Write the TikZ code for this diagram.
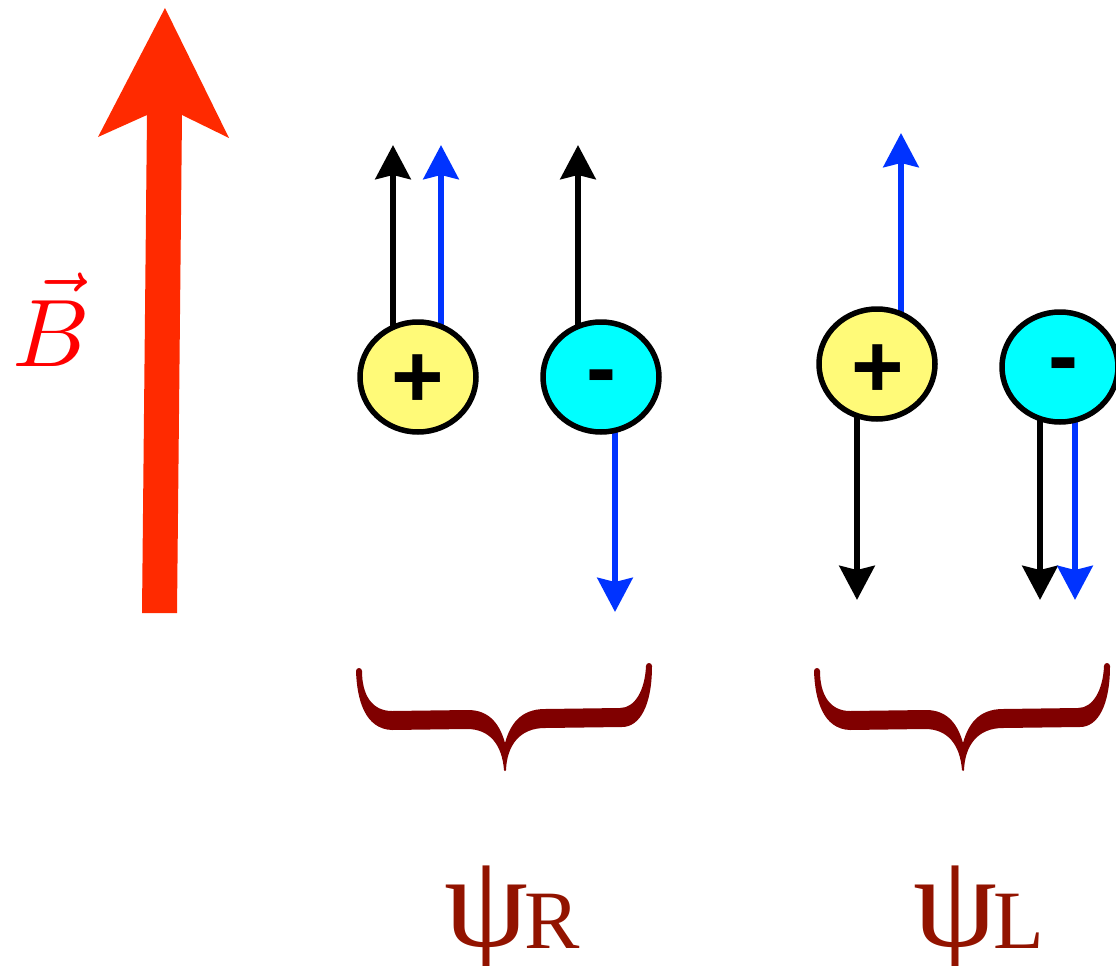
\documentclass[tikz,border=0pt]{standalone}
\usepackage{fontspec}
\usepackage{graphicx}
\usetikzlibrary{shapes.geometric,arrows.meta}
\newfontfamily\sgnfont{Liberation Sans}
\newfontfamily\psifont{Liberation Serif}
\definecolor{bred}{HTML}{FF2A00}
\definecolor{spinblue}{HTML}{0033FF}
\definecolor{pyel}{HTML}{FFFA78}
\definecolor{ncyan}{HTML}{00FFFF}
\definecolor{bracered}{HTML}{800000}
\definecolor{lblred}{HTML}{921300}
\pgfdeclarelayer{background}
\pgfsetlayers{background,main}
\tikzset{
  particle/.style={ellipse, draw=black, line width=5.5pt, minimum width=116pt, minimum height=110pt, inner sep=0pt},
  posparticle/.style={particle, fill=pyel},
  negparticle/.style={particle, fill=ncyan},
  sign/.style={font=\sgnfont\bfseries\fontsize{90}{90}\selectfont, inner sep=0pt, anchor=base},
  spinarrow/.style={line width=6.5pt, -{Stealth[length=34pt,width=35pt,inset=4pt]}},
  blk/.style={spinarrow, draw=black},
  blu/.style={spinarrow, draw=spinblue},
  lbl/.style={font=\psifont, text=lblred, inner sep=0pt},
  brace/.pic={
    \fill[bracered] (-149,-99)
      .. controls (-148,-70) and (-140,-41) .. (-113,-40)
      -- (-38,-41) .. controls (-15,-41) and (-3,-25) .. (-1,0)
      arc (180:0:1)
      .. controls (2,-25) and (15,-42) .. (40,-42)
      -- (117,-43) .. controls (135,-43) and (147,-65) .. (147,-104)
      arc (0:-180:3)
      .. controls (140,-80) and (130,-62) .. (115,-62)
      -- (40,-61) .. controls (15,-61) and (5,-45) .. (0,-27)
      .. controls (-5,-45) and (-15,-60) .. (-37,-60)
      -- (-113,-59) .. controls (-133,-59) and (-143,-75) .. (-143,-99)
      arc (0:-180:3) -- cycle;
  }
}
\begin{document}
\begin{tikzpicture}[x=1pt,y=-1pt]
\useasboundingbox (0,0) rectangle (1116,966);
% magnetic field arrow
\fill[bred] (142,613) -- (147,115) -- (98,137) -- (165,8) -- (229,138) -- (182,115) -- (177,613) -- cycle;
\node[text=red, inner sep=0pt, anchor=base west] (B) at (12,366) {\scalebox{9.6}{$\vec{B}$}};
% particles
\node[posparticle] (c1) at (418,377) {};
\node[negparticle] (c2) at (601,377) {};
\node[posparticle] (c3) at (877,364) {};
\node[negparticle] (c4) at (1060,367) {};
\node[sign] (s1) at (418,407) {+};
\node[sign] (s2) at (601.5,398) {-};
\node[sign] (s3) at (877.5,397) {+};
\node[sign] (s4) at (1063,386) {-};
% spin tips
\coordinate (t1k) at (393,145);
\coordinate (t1b) at (441,145);
\coordinate (t2k) at (578,145);
\coordinate (t2b) at (615,612);
\coordinate (t3b) at (901,133);
\coordinate (t3k) at (857,600);
\coordinate (t4k) at (1040,600);
\coordinate (t4b) at (1075,600);
\begin{pgfonlayer}{background}
\draw[blk] (c1 -| t1k) -- (t1k);
\draw[blu] (c1 -| t1b) -- (t1b);
\draw[blk] (c2 -| t2k) -- (t2k);
\draw[blu] (c2 -| t2b) -- (t2b);
\draw[blu] (c3 -| t3b) -- (t3b);
\draw[blk] (c3 -| t3k) -- (t3k);
\draw[blk] (c4 -| t4k) -- (t4k);
\draw[blu] (c4 -| t4b) -- (t4b);
\end{pgfonlayer}
% braces
\pic at (505,770) {brace};
\pic at (963,770) {brace};
% labels
\node[lbl, anchor=base west] (psiR) at (444,946) {\fontsize{134}{134}\selectfont ψ\kern-4pt\fontsize{83}{83}\selectfont\raisebox{-2pt}{R}};
\node[lbl, anchor=base west] (psiL) at (913,946) {\fontsize{134}{134}\selectfont ψ\kern-4pt\fontsize{83}{83}\selectfont\raisebox{-2pt}{L}};
\end{tikzpicture}
\end{document}
